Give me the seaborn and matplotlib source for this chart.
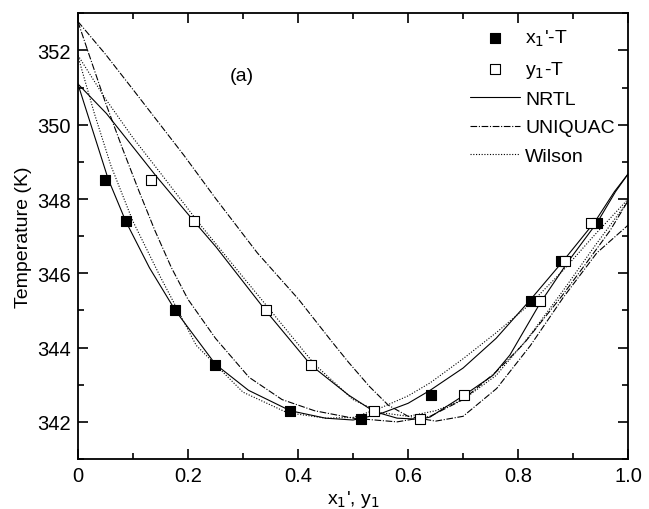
import numpy as np
import matplotlib
matplotlib.use("Agg")
import matplotlib.pyplot as plt
import seaborn as sns

# ---- experimental points ----
x_liq = [0.049, 0.087, 0.177, 0.250, 0.386, 0.514, 0.642, 0.823, 0.877, 0.943]
y_vap = [0.133, 0.211, 0.341, 0.424, 0.538, 0.621, 0.702, 0.840, 0.885, 0.933]
T_exp = [348.52, 347.40, 345.00, 343.52, 342.28, 342.07, 342.73, 345.25, 346.32, 347.35]

# ---- model curves ----
nrtl_liq_x = [0, 0.055, 0.087, 0.13, 0.177, 0.25, 0.31, 0.386, 0.45, 0.50, 0.546, 0.60,
              0.64, 0.70, 0.76, 0.82, 0.88, 0.94, 0.975, 1.0]
nrtl_liq_T = [351.1, 348.54, 347.4, 346.15, 345.0, 343.55, 342.85, 342.3, 342.1, 342.05, 342.2,
              342.5, 342.85, 343.45, 344.25, 345.25, 346.3, 347.4, 348.2, 348.68]
nrtl_vap_x = [0, 0.052, 0.142, 0.211, 0.251, 0.341, 0.424, 0.492, 0.538, 0.58, 0.621, 0.64,
              0.70, 0.754, 0.785, 0.84, 0.89, 0.945, 0.977, 1.0]
nrtl_vap_T = [351.1, 350.3, 348.62, 347.4, 346.71, 345.0, 343.52, 342.72, 342.28, 342.1, 342.07,
              342.13, 342.7, 343.25, 343.8, 345.2, 346.3, 347.4, 348.2, 348.68]

uniq_liq_x = [0, 0.02, 0.05, 0.08, 0.11, 0.14, 0.17, 0.20, 0.25, 0.311, 0.371, 0.43, 0.50,
              0.58, 0.64, 0.70, 0.76, 0.81, 0.88, 0.925, 0.967, 1.0]
uniq_liq_T = [352.78, 351.9, 350.6, 349.4, 348.25, 347.15, 346.15, 345.3, 344.25, 343.2, 342.6,
              342.3, 342.1, 342.0, 342.15, 342.6, 343.35, 344.1, 345.4, 346.3, 347.15, 347.96]
uniq_vap_x = [0, 0.05, 0.10, 0.193, 0.251, 0.326, 0.401, 0.462, 0.492, 0.53, 0.564, 0.60,
              0.65, 0.70, 0.761, 0.822, 0.882, 0.943, 1.0]
uniq_vap_T = [352.78, 351.9, 350.95, 349.17, 348.0, 346.55, 345.3, 344.15, 343.6, 342.95,
              342.45, 342.15, 342.02, 342.15, 342.9, 344.05, 345.35, 346.55, 347.3]

wil_liq_x = [0, 0.03, 0.06, 0.10, 0.15, 0.215, 0.30, 0.38, 0.45, 0.50, 0.546, 0.60, 0.64,
             0.70, 0.76, 0.82, 0.88, 0.94, 1.0]
wil_liq_T = [351.85, 350.3, 348.9, 347.4, 345.9, 344.06, 342.8, 342.25, 342.1, 342.12, 342.35,
             342.7, 343.05, 343.7, 344.4, 345.15, 346.05, 347.05, 348.0]
wil_vap_x = [0, 0.05, 0.10, 0.15, 0.22, 0.30, 0.35, 0.43, 0.50, 0.55, 0.60, 0.65, 0.70,
             0.76, 0.82, 0.88, 0.94, 1.0]
wil_vap_T = [351.87, 350.7, 349.65, 348.7, 347.35, 345.9, 345.0, 343.55, 342.6, 342.25,
             342.15, 342.3, 342.6, 343.25, 344.3, 345.5, 346.75, 347.95]

sns.set_style("ticks")
plt.rcParams['font.family'] = ['Liberation Sans', 'DejaVu Sans']
plt.rcParams.update({'text.color': 'k', 'axes.labelcolor': 'k', 'axes.edgecolor': 'k',
                     'xtick.color': 'k', 'ytick.color': 'k'})

fig = plt.figure(figsize=(6.49, 5.10), dpi=100)
ax = fig.add_axes([0.120, 0.098, 0.848, 0.874])

lw = 0.8
dashdot = (0, (6, 1.5, 1, 1.5))
dotted = (0, (1, 1.5))

def curve(xs, ys, ls, label=None):
    sns.lineplot(x=xs, y=ys, ax=ax, color='k', linewidth=lw, linestyle=ls,
                 sort=False, estimator=None, label=label)

curve(nrtl_liq_x, nrtl_liq_T, '-', 'NRTL')
curve(nrtl_vap_x, nrtl_vap_T, '-')
curve(uniq_liq_x, uniq_liq_T, dashdot, 'UNIQUAC')
curve(uniq_vap_x, uniq_vap_T, dashdot)
curve(wil_liq_x, wil_liq_T, dotted, 'Wilson')
curve(wil_vap_x, wil_vap_T, dotted)

sns.scatterplot(x=x_liq, y=T_exp, ax=ax, marker='s', s=60, color='k',
                edgecolor='k', linewidth=0.8, zorder=3, label="x$_1$'-T")
sns.scatterplot(x=y_vap, y=T_exp, ax=ax, marker='s', s=60, facecolor='white',
                edgecolor='k', linewidth=0.8, zorder=4, label="y$_1$-T")

ax.set_xlim(0, 1.0)
ax.set_ylim(341, 353)
ax.set_xticks([0, 0.2, 0.4, 0.6, 0.8, 1.0])
ax.set_xticklabels(['0', '0.2', '0.4', '0.6', '0.8', '1.0'])
ax.set_xticks(np.arange(0.1, 1.0, 0.2), minor=True)
ax.set_yticks([342, 344, 346, 348, 350, 352])
ax.set_yticks([341, 343, 345, 347, 349, 351, 353], minor=True)
ax.tick_params(which='both', direction='in', top=True, right=True, labelsize=14.5, width=1.2)
ax.tick_params(which='major', length=7, pad=5)
ax.tick_params(which='minor', length=4)
for s in ax.spines.values():
    s.set_linewidth(1.3)

ax.set_xlabel("x$_1$', y$_1$", fontsize=14, labelpad=2)
ax.set_ylabel("Temperature (K)", fontsize=14, labelpad=4)
ax.text(0.298, 351.32, "(a)", fontsize=14, ha='center', va='center')

handles, labels = ax.get_legend_handles_labels()
order = [labels.index(l) for l in ["x$_1$'-T", "y$_1$-T", 'NRTL', 'UNIQUAC', 'Wilson']]
ax.legend([handles[i] for i in order], [labels[i] for i in order], loc='upper right',
          bbox_to_anchor=(0.99, 0.985), frameon=False, fontsize=14, handlelength=2.6,
          handletextpad=0.25, labelspacing=0.55, borderaxespad=0)

fig.savefig("out.png", dpi=100)
